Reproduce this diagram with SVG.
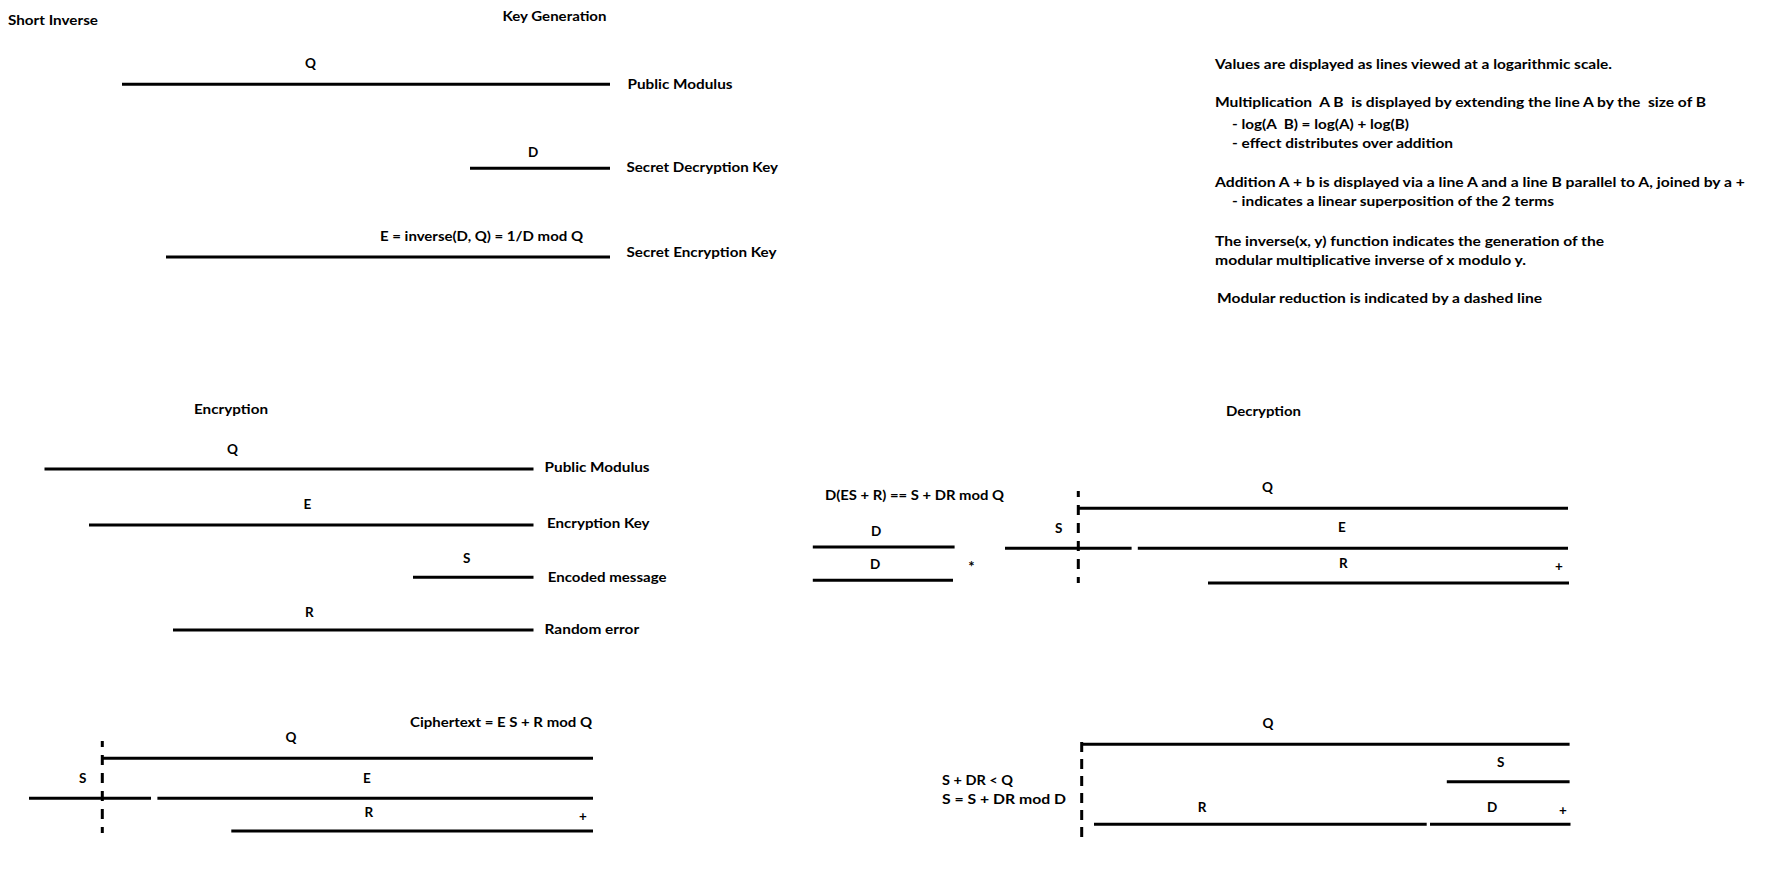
<svg xmlns="http://www.w3.org/2000/svg" width="1766" height="877" viewBox="0 0 1766 877">
<style>
.t{font-family:Lato,"Open Sans","Liberation Sans",sans-serif;font-weight:bold;font-size:13.5px;fill:#000}
.m{text-anchor:middle}
.ln{stroke:#000;stroke-width:3;fill:none}
.dash{stroke:#000;stroke-width:3;fill:none;stroke-dasharray:10 8;stroke-dashoffset:4}
</style>
<rect width="1766" height="877" fill="#fff"/>

<g id="titles">
<text class="t" x="8" y="25" textLength="90" lengthAdjust="spacingAndGlyphs">Short Inverse</text>
<text class="t" x="502.5" y="20.5" textLength="104" lengthAdjust="spacingAndGlyphs">Key Generation</text>
<text class="t" x="194" y="414" textLength="74" lengthAdjust="spacingAndGlyphs">Encryption</text>
<text class="t" x="1226" y="416" textLength="75" lengthAdjust="spacingAndGlyphs">Decryption</text>
</g>

<g id="legend">
<text class="t" x="1215" y="69.3" textLength="397" lengthAdjust="spacingAndGlyphs">Values are displayed as lines viewed at a logarithmic scale.</text>
<text class="t" x="1215" y="107.3" textLength="491" lengthAdjust="spacingAndGlyphs" xml:space="preserve">Multiplication  A B  is displayed by extending the line A by the  size of B</text>
<text class="t" x="1232" y="129.3" textLength="177" lengthAdjust="spacingAndGlyphs" xml:space="preserve">- log(A  B) = log(A) + log(B)</text>
<text class="t" x="1232" y="148.3" textLength="221" lengthAdjust="spacingAndGlyphs">- effect distributes over addition</text>
<text class="t" x="1215" y="186.7" textLength="530" lengthAdjust="spacingAndGlyphs">Addition A + b is displayed via a line A and a line B parallel to A, joined by a +</text>
<text class="t" x="1232" y="205.7" textLength="322" lengthAdjust="spacingAndGlyphs">- indicates a linear superposition of the 2 terms</text>
<text class="t" x="1215" y="246" textLength="389" lengthAdjust="spacingAndGlyphs">The inverse(x, y) function indicates the generation of the</text>
<text class="t" x="1215" y="265" textLength="311" lengthAdjust="spacingAndGlyphs">modular multiplicative inverse of x modulo y.</text>
<text class="t" x="1217" y="303" textLength="325" lengthAdjust="spacingAndGlyphs">Modular reduction is indicated by a dashed line</text>
</g>

<g id="keygen-q">
<line class="ln" x1="122" y1="84.3" x2="610" y2="84.3"/>
<text class="t" x="305" y="67.7">Q</text>
<text class="t" x="627.5" y="89" textLength="105" lengthAdjust="spacingAndGlyphs">Public Modulus</text>
</g>
<g id="keygen-d">
<line class="ln" x1="470" y1="168.3" x2="610" y2="168.3"/>
<text class="t" x="528" y="156.7">D</text>
<text class="t" x="626.5" y="171.7" textLength="151.5" lengthAdjust="spacingAndGlyphs">Secret Decryption Key</text>
</g>
<g id="keygen-e">
<line class="ln" x1="166" y1="257" x2="610" y2="257"/>
<text class="t" x="380" y="240.7" textLength="203" lengthAdjust="spacingAndGlyphs">E = inverse(D, Q) = 1/D mod Q</text>
<text class="t" x="626.5" y="256.7" textLength="150" lengthAdjust="spacingAndGlyphs">Secret Encryption Key</text>
</g>

<g id="enc-q">
<line class="ln" x1="44.5" y1="469" x2="533.5" y2="469"/>
<text class="t" x="227" y="454">Q</text>
<text class="t" x="544.6" y="471.7" textLength="105" lengthAdjust="spacingAndGlyphs">Public Modulus</text>
</g>
<g id="enc-e">
<line class="ln" x1="89" y1="525" x2="533.5" y2="525"/>
<text class="t" x="303.6" y="509">E</text>
<text class="t" x="547" y="527.7" textLength="102.5" lengthAdjust="spacingAndGlyphs">Encryption Key</text>
</g>
<g id="enc-s">
<line class="ln" x1="413" y1="577.3" x2="533.5" y2="577.3"/>
<text class="t" x="463" y="562.7">S</text>
<text class="t" x="547.7" y="581.7" textLength="118.8" lengthAdjust="spacingAndGlyphs">Encoded message</text>
</g>
<g id="enc-r">
<line class="ln" x1="173" y1="630" x2="533.5" y2="630"/>
<text class="t" x="305" y="617.3">R</text>
<text class="t" x="544.6" y="634.3" textLength="94.6" lengthAdjust="spacingAndGlyphs">Random error</text>
</g>

<g id="ciphertext">
<text class="t" x="410" y="727.3" textLength="182" lengthAdjust="spacingAndGlyphs">Ciphertext = E S + R mod Q</text>
<g id="ct-q">
<line class="ln" x1="102" y1="758.3" x2="593" y2="758.3"/>
<text class="t" x="285.5" y="741.7">Q</text>
</g>
<g id="ct-s">
<line class="ln" x1="29" y1="798.3" x2="151" y2="798.3"/>
<text class="t" x="79" y="783.3">S</text>
</g>
<g id="ct-e">
<line class="ln" x1="157.4" y1="798.3" x2="593" y2="798.3"/>
<text class="t" x="363" y="782.7">E</text>
</g>
<g id="ct-r">
<line class="ln" x1="231.3" y1="831" x2="593" y2="831"/>
<text class="t" x="364.5" y="817.3">R</text>
<text class="t m" x="583" y="821">+</text>
</g>
</g>

<g id="decryption-top">
<text class="t" x="825" y="500" textLength="179" lengthAdjust="spacingAndGlyphs">D(ES + R) == S + DR mod Q</text>
<g id="dt-d1">
<line class="ln" x1="812.8" y1="547" x2="954.6" y2="547"/>
<text class="t" x="871" y="535.5">D</text>
</g>
<g id="dt-d2">
<line class="ln" x1="812.8" y1="580.3" x2="953" y2="580.3"/>
<text class="t" x="870" y="569">D</text>
</g>
<text class="t m" x="971.5" y="572" style="font-size:15px">*</text>
<g id="dt-q">
<line class="ln" x1="1078.3" y1="508.3" x2="1568" y2="508.3"/>
<text class="t" x="1262" y="492.3">Q</text>
</g>
<g id="dt-s">
<line class="ln" x1="1005" y1="548.3" x2="1131.6" y2="548.3"/>
<text class="t" x="1055" y="533.3">S</text>
</g>
<g id="dt-e">
<line class="ln" x1="1137.8" y1="548.3" x2="1568" y2="548.3"/>
<text class="t" x="1338" y="531.7">E</text>
</g>
<g id="dt-r">
<line class="ln" x1="1208" y1="583" x2="1569" y2="583"/>
<text class="t" x="1339" y="568.3">R</text>
<text class="t m" x="1559" y="570.5">+</text>
</g>
</g>

<g id="decryption-bottom">
<text class="t" x="942" y="785" textLength="71" lengthAdjust="spacingAndGlyphs">S + DR &lt; Q</text>
<text class="t" x="942" y="804" textLength="124" lengthAdjust="spacingAndGlyphs">S = S + DR mod D</text>
<g id="db-q">
<line class="ln" x1="1081.7" y1="744.3" x2="1569.6" y2="744.3"/>
<text class="t" x="1262.5" y="728.3">Q</text>
</g>
<g id="db-s">
<line class="ln" x1="1446.8" y1="781.7" x2="1569.6" y2="781.7"/>
<text class="t" x="1497" y="766.7">S</text>
</g>
<g id="db-r">
<line class="ln" x1="1094" y1="824.3" x2="1426.7" y2="824.3"/>
<text class="t" x="1197.8" y="811.7">R</text>
</g>
<g id="db-d">
<line class="ln" x1="1430" y1="824.3" x2="1570.5" y2="824.3"/>
<text class="t" x="1487" y="811.7">D</text>
<text class="t m" x="1563" y="814.5">+</text>
</g>
</g>

<g id="connectors">
<line class="dash" x1="1078.3" y1="491" x2="1078.3" y2="583"/>
<line class="dash" x1="102.3" y1="741" x2="102.3" y2="833"/>
<line class="dash" x1="1081.7" y1="742" x2="1081.7" y2="837" style="stroke-dasharray:10 7;stroke-dashoffset:0"/>
</g>
</svg>
